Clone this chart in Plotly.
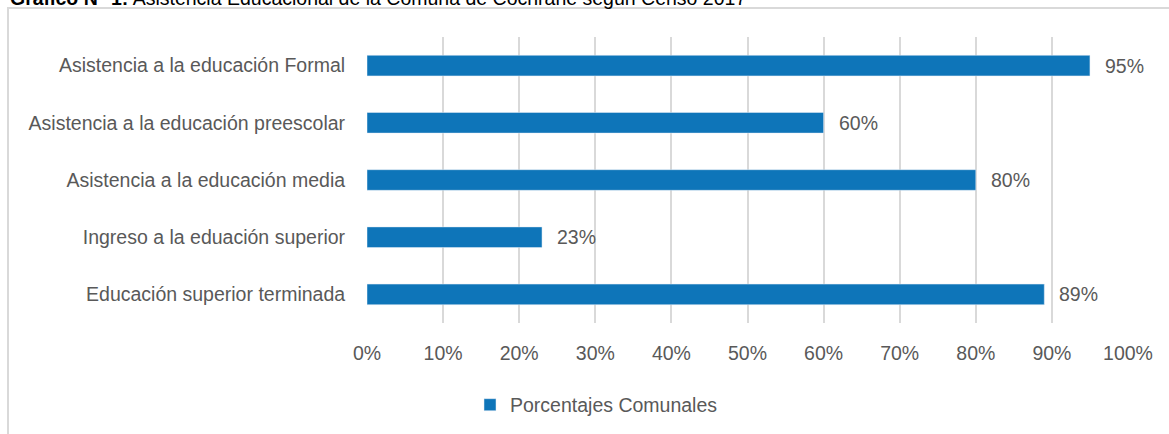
import plotly.graph_objects as go

# datos (orden de arriba hacia abajo)
categorias = [
    "Asistencia a la educación Formal",
    "Asistencia a la educación preescolar",
    "Asistencia a la educación media",
    "Ingreso a la eduación superior",
    "Educación superior terminada",
]
porcentajes = [95, 60, 80, 23, 89]
serie = "Porcentajes Comunales"
ticks_x = [0, 10, 20, 30, 40, 50, 60, 70, 80, 90, 100]
ticks_x_txt = [f"{t}%" for t in ticks_x]

AZUL = "#0E75B9"
GRIS_TXT = "#595959"
GRIS_GRID = "#D9D9D9"
FUENTE = "Liberation Sans, Arial, sans-serif"
TAM = 19.5

W, H = 1169, 434
L, R, T, B = 367, 41, 37, 111


def px_a_paper_x(px):
    return (px - L) / (W - L - R)


def px_a_paper_y(py):
    return (H - B - py) / (H - T - B)


fig = go.Figure()

fig.add_trace(
    go.Bar(
        x=porcentajes,
        y=categorias,
        orientation="h",
        name=serie,
        marker_color=AZUL,
        width=0.36,
        showlegend=True,
    )
)

# etiquetas de valor a la derecha de cada barra
for cat, val in zip(categorias, porcentajes):
    fig.add_annotation(
        x=val,
        y=cat,
        text=f"{val}%",
        showarrow=False,
        xanchor="left",
        xshift=13,
        font=dict(size=TAM, color=GRIS_TXT, family=FUENTE),
    )

# título (recortado arriba, como en la imagen original)
fig.add_annotation(
    text="<b>Gráfico N° 1:</b> Asistencia Educacional de la Comuna de Cochrane según Censo 2017",
    xref="paper",
    yref="paper",
    x=px_a_paper_x(8),
    y=px_a_paper_y(11),
    xanchor="left",
    yanchor="bottom",
    showarrow=False,
    font=dict(size=19.5, color="#000000", family=FUENTE),
)

# marco del área del gráfico
fig.add_shape(
    type="rect",
    xref="paper",
    yref="paper",
    x0=px_a_paper_x(8),
    x1=px_a_paper_x(1200),
    y0=px_a_paper_y(460),
    y1=px_a_paper_y(8),
    line=dict(color=GRIS_GRID, width=2),
    fillcolor="rgba(0,0,0,0)",
    layer="below",
)

fig.update_layout(
    width=W,
    height=H,
    margin=dict(l=L, r=R, t=T, b=B, autoexpand=False),
    plot_bgcolor="white",
    paper_bgcolor="white",
    font=dict(family=FUENTE, size=TAM, color=GRIS_TXT),
    bargap=0.64,
    showlegend=True,
    legend=dict(
        orientation="h",
        x=px_a_paper_x(470),
        xanchor="left",
        y=px_a_paper_y(405),
        yanchor="middle",
        font=dict(size=TAM, color=GRIS_TXT, family=FUENTE),
    ),
)

fig.update_xaxes(
    range=[0, 100],
    tickvals=ticks_x,
    ticktext=ticks_x_txt,
    showgrid=True,
    gridcolor=GRIS_GRID,
    gridwidth=2,
    zeroline=False,
    showline=False,
    ticks="outside",
    ticklen=13,
    tickcolor="rgba(0,0,0,0)",
    tickfont=dict(size=TAM, color=GRIS_TXT),
)

fig.update_yaxes(
    categoryorder="array",
    categoryarray=categorias[::-1],
    showgrid=False,
    showline=False,
    ticks="outside",
    ticklen=17,
    tickcolor="rgba(0,0,0,0)",
    tickfont=dict(size=TAM, color=GRIS_TXT),
)

fig.write_html(
    "out.html",
    config={"displayModeBar": False},
    post_script="document.body.style.margin='0';",
)
